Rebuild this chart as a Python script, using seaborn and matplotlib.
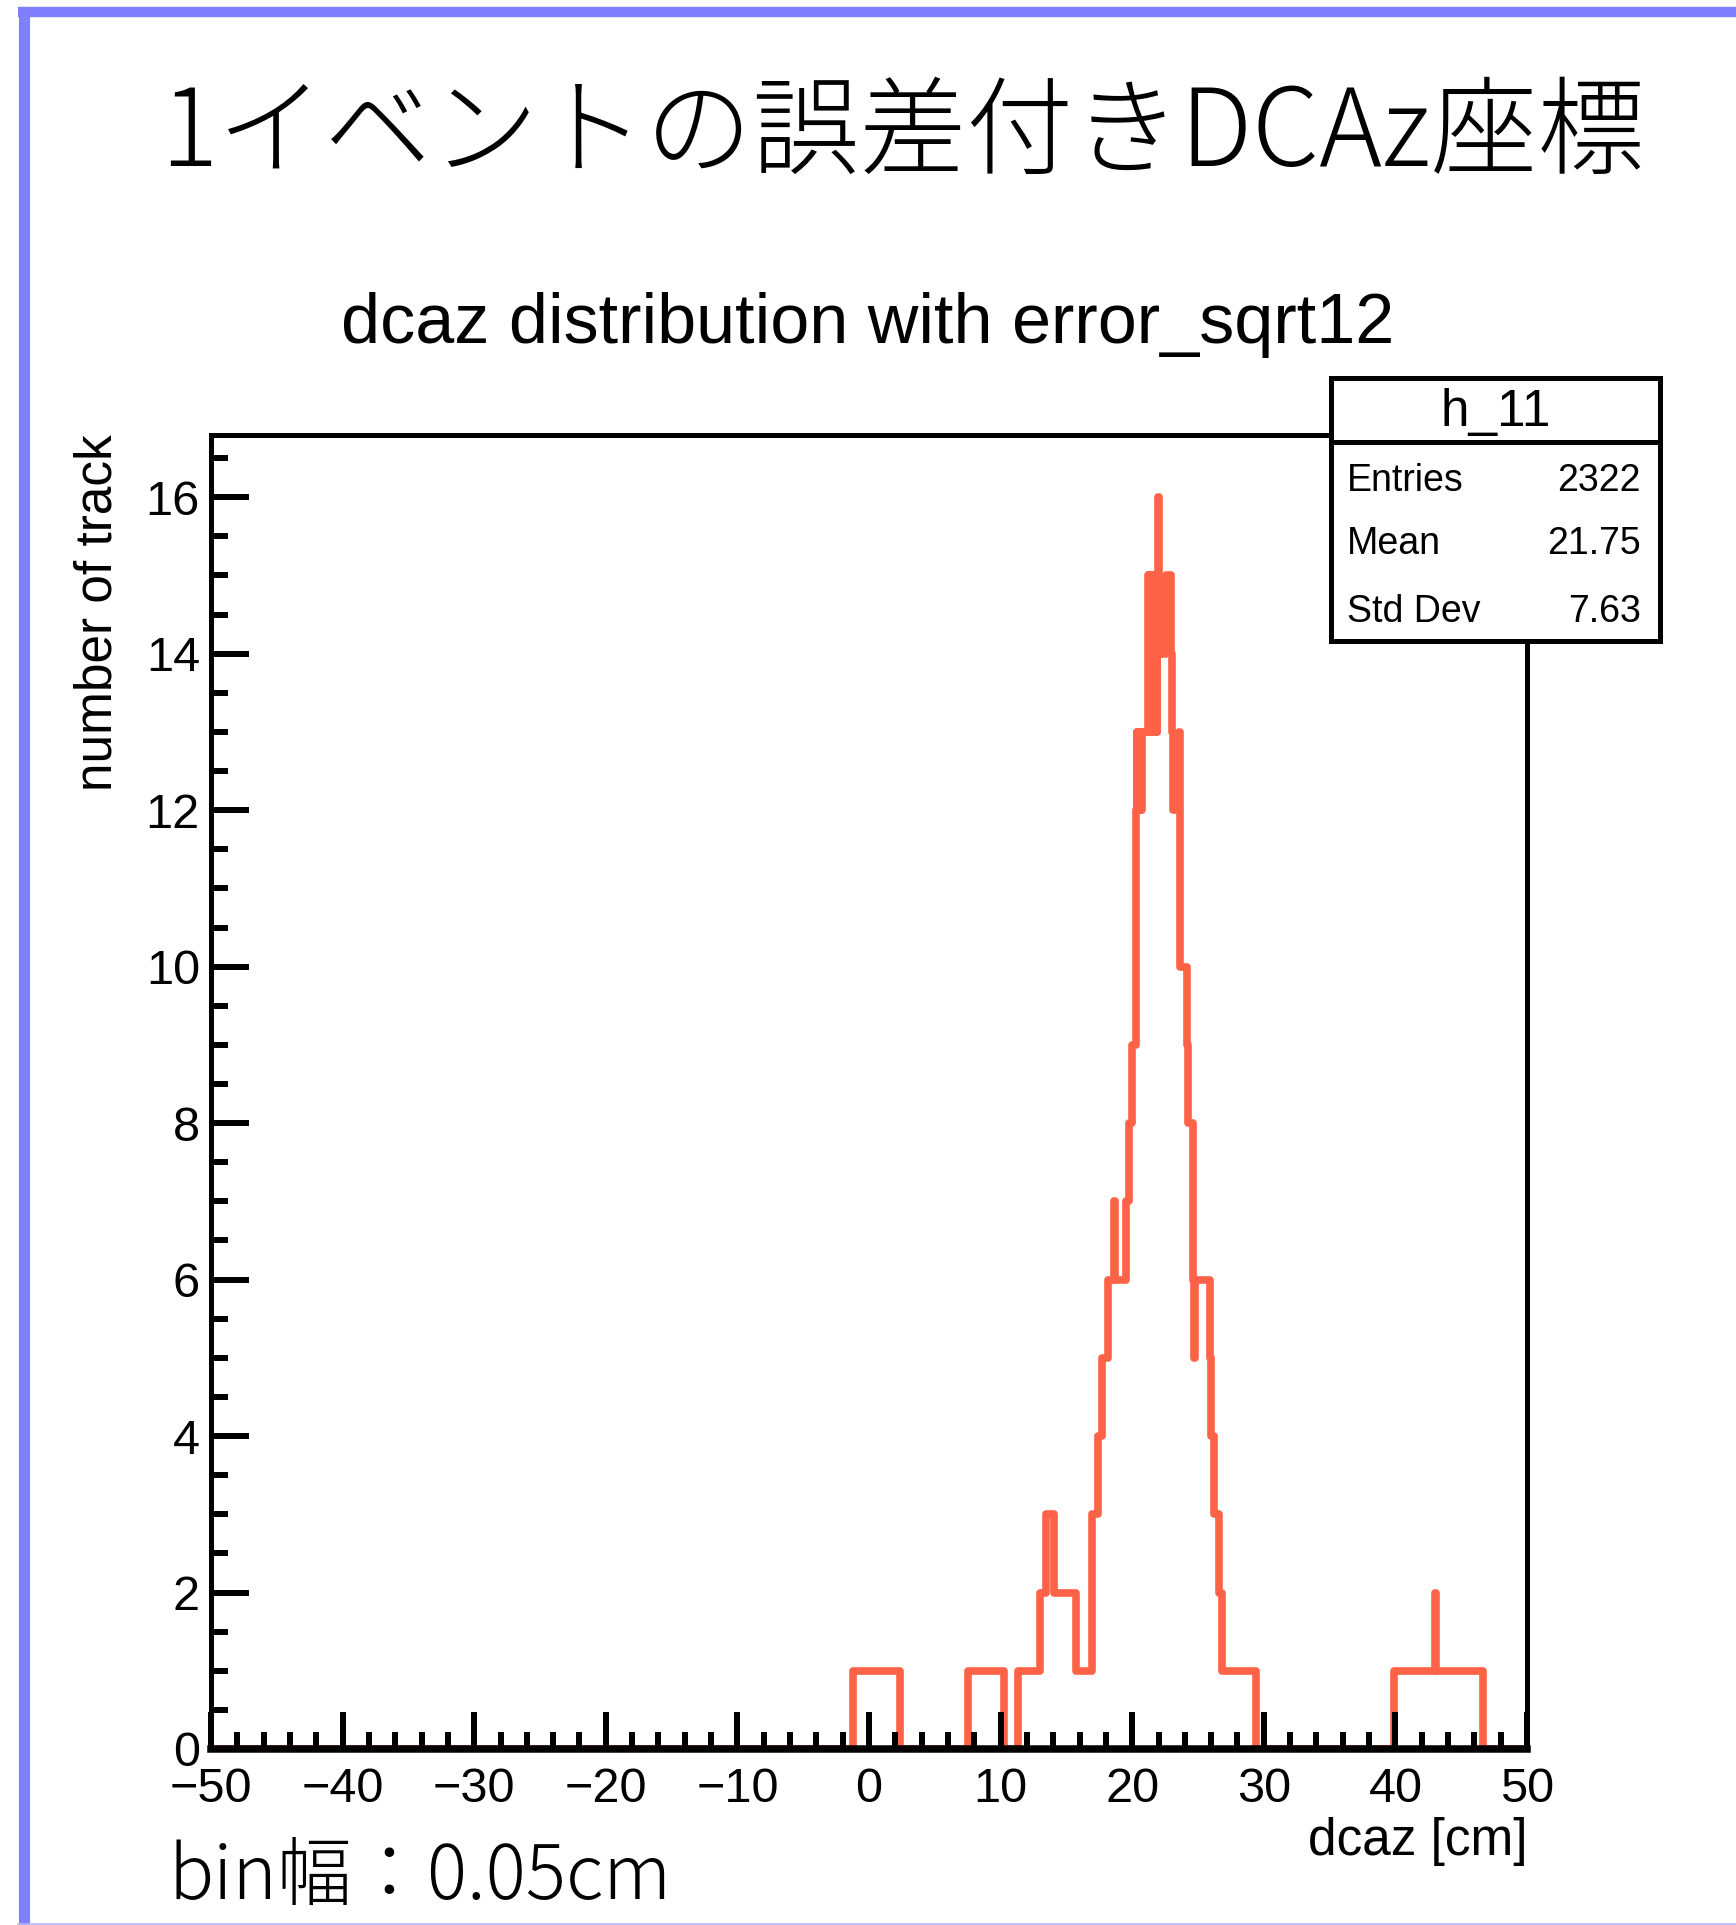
import numpy as np
import pandas as pd
import matplotlib
matplotlib.use("Agg")
import matplotlib.pyplot as plt
from matplotlib.ticker import MultipleLocator
from matplotlib.lines import Line2D
import seaborn as sns

# ---------------- data ----------------
bin_edges = [-50.0, -1.21, 0.81, 2.33, 7.52, 10.25, 11.32, 12.98, 13.47, 14.05,
             15.75, 16.96, 17.39, 17.74, 18.15, 18.62, 18.68, 19.50, 19.74, 19.97,
             20.30, 20.35, 20.40, 20.45, 20.50, 20.55, 20.60, 20.65, 20.70, 20.75,
             21.20, 21.25, 21.30, 21.35, 21.40, 21.45, 21.50, 21.55, 21.60, 21.65,
             21.70, 21.75, 21.80, 21.85, 21.90, 21.95, 22.00, 22.55, 22.96, 23.05,
             23.12, 23.55, 23.62, 24.15, 24.22, 24.60, 24.72, 24.80, 25.92, 26.00,
             26.20, 26.60, 26.85, 29.41, 39.92, 41.60, 42.98, 43.05, 44.80, 46.62,
             50.0]
bin_counts = [0, 1, 1, 0, 1, 0, 1, 2, 3, 2,
              1, 3, 4, 5, 6, 7, 6, 7, 8, 9,
              12, 13, 12, 13, 12, 13, 12, 13, 12, 13,
              15, 13, 15, 14, 15, 13, 15, 14, 15, 13,
              15, 14, 15, 13, 15, 16, 14, 15, 14, 13,
              12, 13, 10, 9, 8, 6, 5, 6, 5, 4,
              3, 2, 1, 0, 1, 1, 2, 1, 1, 0]

x_major_ticks = [-50, -40, -30, -20, -10, 0, 10, 20, 30, 40, 50]
y_major_ticks = [0, 2, 4, 6, 8, 10, 12, 14, 16]

main_title = "1イベントの誤差付きDCAz座標"
hist_title = "dcaz distribution with error_sqrt12"
x_title = "dcaz [cm]"
y_title = "number of track"
footer = "bin幅：0.05cm"
stats_name = "h_11"
stats_labels = ["Entries", "Mean", "Std Dev"]
stats_values = ["2322", "21.75", "7.63"]

# ---------------- figure ----------------
W, H = 1736, 1925
DPI = 100
fig = plt.figure(figsize=(W / DPI, H / DPI), dpi=DPI)
fig.patch.set_facecolor("white")

LAT = ["Liberation Sans", "DejaVu Sans"]
CJK = ["Noto Sans CJK JP", "DejaVu Sans"]
plt.rcParams["font.family"] = LAT

def fx(px):
    return px / W

def fy(py):
    return 1 - py / H

# outer slide border (blue)
border_col = "#8080ff"
fig.add_artist(Line2D([fx(23.5), fx(23.5)], [fy(7), fy(1925)], transform=fig.transFigure,
                      color=border_col, lw=8.0, solid_capstyle="butt"))
fig.add_artist(Line2D([fx(18), fx(1736)], [fy(12), fy(12)], transform=fig.transFigure,
                      color=border_col, lw=7.5, solid_capstyle="butt"))
fig.add_artist(Line2D([fx(18), fx(1736)], [fy(1923.5), fy(1923.5)], transform=fig.transFigure,
                      color="#b8b8ff", lw=1.2))

# main axes
ax_l, ax_r, ax_t, ax_b = 211, 1527, 434.6, 1749
ax = fig.add_axes([fx(ax_l), fy(ax_b), (ax_r - ax_l) / W, (ax_b - ax_t) / H])

centers = [(a + b) / 2 for a, b in zip(bin_edges[:-1], bin_edges[1:])]
df = pd.DataFrame({"dcaz": centers, "n": bin_counts})
sns.histplot(data=df, x="dcaz", weights="n", bins=bin_edges, element="step",
             fill=False, color="#ff6347", linewidth=5.5, ax=ax)
for ln in ax.lines:
    ln.set_zorder(1.5)

ax.set_xlim(-50, 50)
ax.set_ylim(0, 16.8)
ax.set_xticks(x_major_ticks)
ax.set_yticks(y_major_ticks)
ax.xaxis.set_minor_locator(MultipleLocator(2))
ax.yaxis.set_minor_locator(MultipleLocator(0.5))
ax.tick_params(which="both", direction="in", top=False, right=False, width=4.3, color="black")
ax.tick_params(which="major", length=27)
ax.tick_params(which="minor", length=12.5)
ax.tick_params(axis="x", which="major", labelsize=35, pad=13)
ax.tick_params(axis="y", which="major", labelsize=35, pad=8)
for s in ax.spines.values():
    s.set_linewidth(3.6)
    s.set_color("black")
    s.set_zorder(3)
ax.spines["bottom"].set_linewidth(5.4)
ax.set_xlabel("")
ax.set_ylabel("")

# axis titles (ROOT style: aligned to the axis end)
fig.text(fx(1527), fy(1842), x_title, ha="right", va="center", fontsize=37, family=LAT)
fig.text(fx(98), fy(434.6), y_title, ha="center", va="top", rotation=90, fontsize=37, family=LAT)

# titles
fig.text(fx(902), fy(135), main_title, ha="center", va="center", fontsize=77,
         family=CJK, fontweight="light")
fig.text(fx(868), fy(325), hist_title, ha="center", va="center", fontsize=50.5, family=LAT)
fig.text(fx(168), fy(1878), footer, ha="left", va="center", fontsize=54,
         family=CJK, fontweight="light")

# stats box
bl, br, bt, bb = 1331, 1660, 378, 641
bx = fig.add_axes([fx(bl), fy(bb), (br - bl) / W, (bb - bt) / H], zorder=5)
bx.set_xlim(0, 1)
bx.set_ylim(0, 1)
bx.set_xticks([])
bx.set_yticks([])
bx.set_facecolor("white")
for s in bx.spines.values():
    s.set_linewidth(3.6)
sep = (bb - 442) / (bb - bt)
bx.axhline(sep, color="black", lw=3.6)
bx.text(0.5, (sep + 1) / 2 - 0.01, stats_name, ha="center", va="center", fontsize=37, family=LAT)
row_y = [(bb - 481) / (bb - bt), (bb - 544) / (bb - bt), (bb - 612) / (bb - bt)]
for lab, val, yy in zip(stats_labels, stats_values, row_y):
    bx.text(0.049, yy, lab, ha="left", va="center", fontsize=27, family=LAT)
    bx.text(0.942, yy, val, ha="right", va="center", fontsize=27, family=LAT)

fig.savefig("out.png", dpi=DPI, facecolor="white")
